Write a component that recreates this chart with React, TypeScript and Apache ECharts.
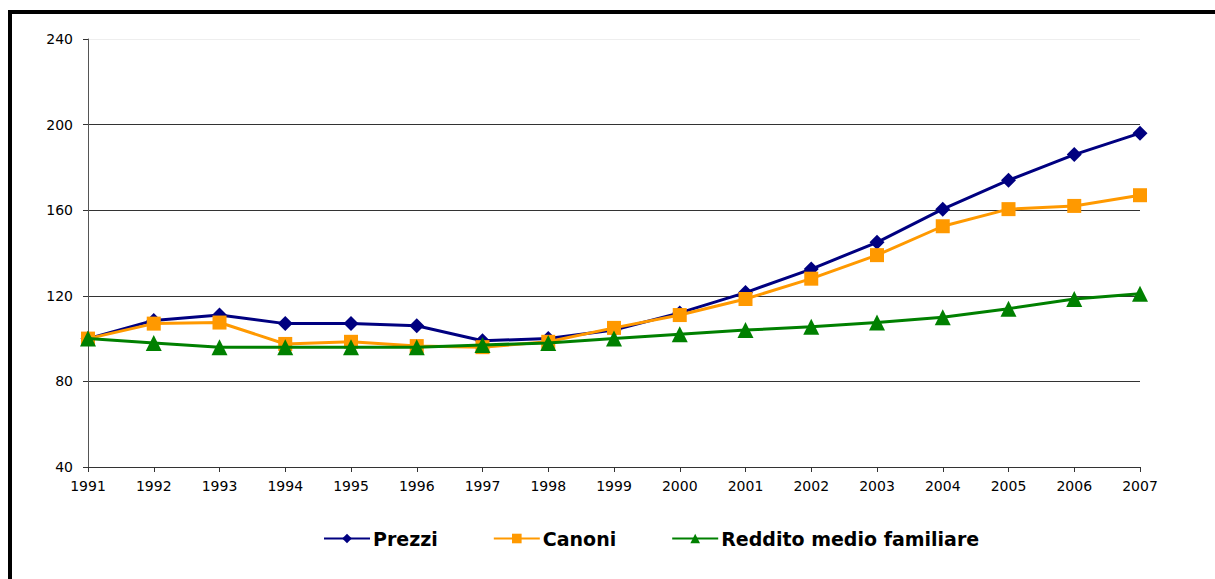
import React, { useEffect, useRef } from "react";
import * as echarts from "echarts";

const years = ["1991","1992","1993","1994","1995","1996","1997","1998","1999","2000","2001","2002","2003","2004","2005","2006","2007"];
const prezzi = [100, 108.5, 111, 107, 107, 106, 99, 100, 104, 112, 121.5, 132.5, 145, 160.5, 174, 186, 196];
const canoni = [100, 107, 107.5, 97.5, 98.5, 96.5, 96, 98.5, 105, 111, 118.5, 128, 139, 152.5, 160.5, 162, 167];
const reddito = [100, 98, 96, 96, 96, 96, 97, 98, 100, 102, 104, 105.5, 107.5, 110, 114, 118.5, 121];

export default function App() {
  const ref = useRef<HTMLDivElement>(null);
  useEffect(() => {
    if (!ref.current) return;
    const chart = echarts.init(ref.current, null, { renderer: "svg" });
    const font = "'DejaVu Sans', sans-serif";
    chart.setOption({
      animation: false,
      backgroundColor: "#fff",
      graphic: [
        {
          type: "rect",
          shape: { x: 10, y: 12, width: 1400, height: 800 },
          style: { fill: "none", stroke: "#000", lineWidth: 4 },
          silent: true,
          z: 100,
        },
      ],
      grid: { left: 88, right: 75, top: 39, bottom: 112, containLabel: false },
      xAxis: {
        type: "category",
        data: years,
        boundaryGap: false,
        axisLine: { lineStyle: { color: "#333", width: 1 } },
        axisTick: { show: true, length: 5, lineStyle: { color: "#333" } },
        axisLabel: { color: "#000", fontSize: 14, fontFamily: font, margin: 12 },
        splitLine: { show: false },
      },
      yAxis: {
        type: "value",
        min: 40,
        max: 240,
        interval: 40,
        axisLine: { show: true, lineStyle: { color: "#555", width: 1 } },
        axisTick: { show: true, length: 5, lineStyle: { color: "#333" } },
        axisLabel: { color: "#000", fontSize: 14, fontFamily: font, margin: 15 },
        splitLine: {
          show: true,
          lineStyle: { color: ["#333", "#333", "#333", "#333", "#333", "#eeeeee"], width: 1 },
        },
      },
      legend: {
        bottom: 26,
        left: 318,
        itemWidth: 46,
        itemHeight: 12,
        itemGap: 55,
        textStyle: { color: "#000", fontSize: 19, fontWeight: "bold", fontFamily: font, padding: [0, 0, 0, -2] },
        data: ["Prezzi", "Canoni", "Reddito medio familiare"],
      },
      series: [
        {
          name: "Prezzi",
          type: "line",
          data: prezzi,
          symbol: "diamond",
          symbolSize: 15,
          itemStyle: { color: "#000080" },
          lineStyle: { color: "#000080", width: 3 },
          z: 3,
        },
        {
          name: "Canoni",
          type: "line",
          data: canoni,
          symbol: "rect",
          symbolSize: 14,
          itemStyle: { color: "#FF9900" },
          lineStyle: { color: "#FF9900", width: 3 },
          z: 4,
        },
        {
          name: "Reddito medio familiare",
          type: "line",
          data: reddito,
          symbol: "triangle",
          symbolSize: 16,
          itemStyle: { color: "#008000" },
          lineStyle: { color: "#008000", width: 3 },
          z: 5,
        },
      ],
    });
    return () => chart.dispose();
  }, []);
  return (
    <div
      ref={ref}
      style={{ position: "fixed", left: 0, top: 0, width: 1215, height: 579 }}
    />
  );
}
